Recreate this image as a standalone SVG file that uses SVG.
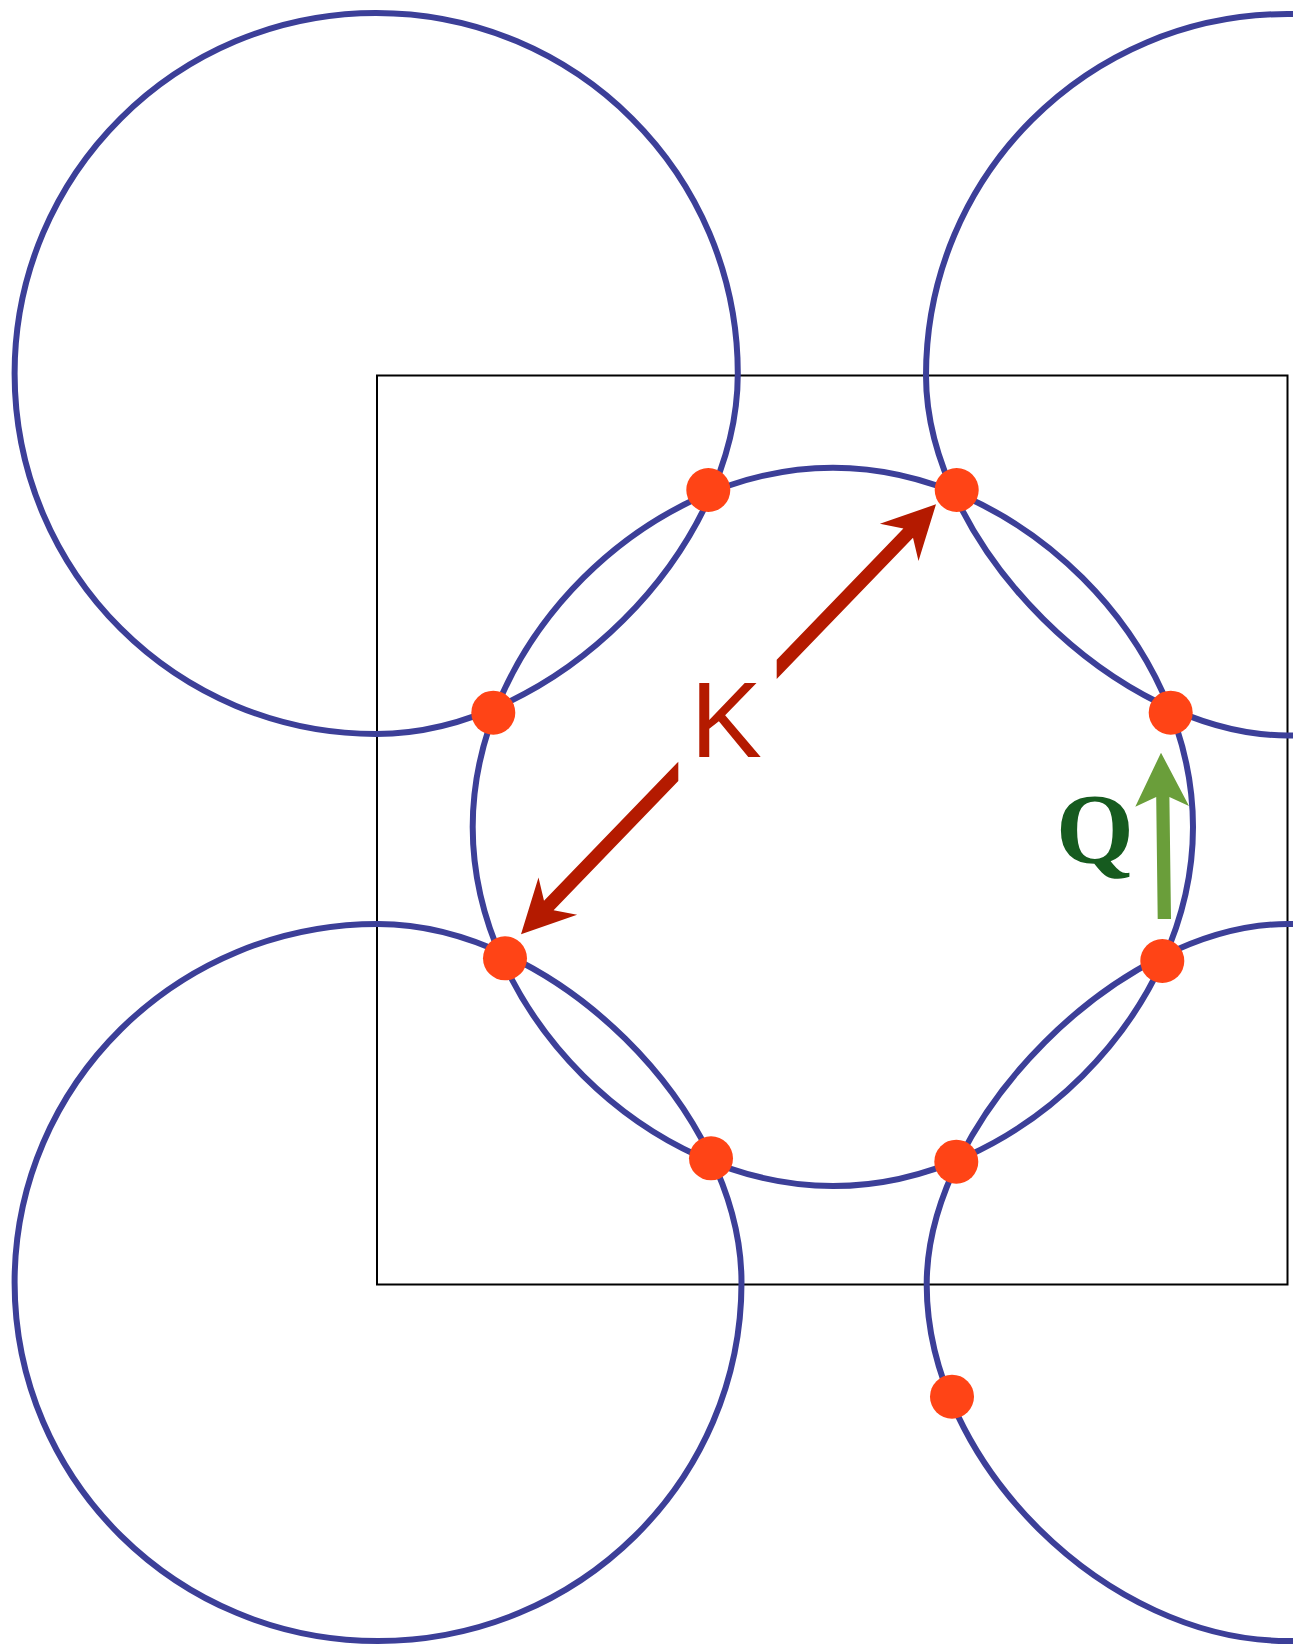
<svg xmlns="http://www.w3.org/2000/svg" width="1293" height="1644" viewBox="0 0 1293 1644">
<style>
.fs{fill:none;stroke:#3C3F98;stroke-width:6;stroke-linejoin:round}
.dot{fill:#FF4416}
.kv{fill:#B41A00}
.qv{fill:#6A9E3A}
</style>
<rect x="0" y="0" width="1293" height="1644" fill="#FFFFFF"/>
<g id="zone">
<rect x="377" y="375.5" width="910.5" height="909" fill="none" stroke="#000000" stroke-width="2"/>
</g>
<g id="surfaces">
<path id="fs-center" class="fs" d="M1193,827 C1193,1011.89 1018.4,1186 833,1186 C647.45,1186 472.7,1011.89 472.7,827 C472.7,641.96 647.45,467.7 833,467.7 C1018.4,467.7 1193,641.96 1193,827 Z"/>
<path id="fs-tl" class="fs" d="M737.8,373.5 C737.8,550.15 553.38,734 376.2,734 C176.49,734 14.6,572.6 14.6,373.5 C14.6,174.4 176.49,13 376.2,13 C575.91,13 737.8,174.4 737.8,373.5 Z"/>
<path id="fs-tr" class="fs" d="M1649,375.5 C1649,574.33 1487.16,735.5 1287.5,735.5 C1117.59,735.5 926,544.7 926,375.5 C926,175.84 1087.84,14 1287.5,14 C1487.16,14 1649,175.84 1649,375.5 Z"/>
<path id="fs-bl" class="fs" d="M741.5,1282.5 C741.5,1480.5 578.76,1641 378,1641 C177.29,1641 14.6,1480.5 14.6,1282.5 C14.6,1084.5 177.29,924 378,924 C552.48,924 741.5,1110.42 741.5,1282.5 Z"/>
<path id="fs-br" class="fs" d="M1647.5,1284.5 C1647.5,1481.4 1486.33,1641 1287.5,1641 C1107.1,1641 926.7,1462.75 926.7,1284.5 C926.7,1118.67 1121.53,924 1287.5,924 C1486.33,924 1647.5,1085.4 1647.5,1284.5 Z"/>
</g>
<g id="hotspots">
<circle class="dot" cx="708.3" cy="490" r="22"/>
<circle class="dot" cx="956.7" cy="490" r="22"/>
<circle class="dot" cx="493.3" cy="712.7" r="22"/>
<circle class="dot" cx="1170.7" cy="712.7" r="22"/>
<circle class="dot" cx="505" cy="958.3" r="22"/>
<circle class="dot" cx="1162.3" cy="961" r="22"/>
<circle class="dot" cx="711" cy="1158.3" r="22"/>
<circle class="dot" cx="956.3" cy="1161.7" r="22"/>
<circle class="dot" cx="952" cy="1396.7" r="22"/>
</g>
<g id="vector-K">
<polygon class="kv" points="776.7,659.75 903.4,528.4 879.9,523.8 936,504.3 918.5,561 913,537.8 776.7,679.05"/>
<polygon class="kv" points="678.3,761.65 544,900.8 538.5,877.6 521,934.3 577.1,914.8 553.6,910.2 678.3,780.95"/>
<text x="690.5" y="757.3" font-family="'Liberation Sans', Arial, sans-serif" font-size="107" fill="#B41A00">K</text>
</g>
<g id="vector-Q">
<polygon class="qv" points="1157.7,919 1171,919 1169.4,797 1189,806 1161,752.7 1135.3,806.7 1156.2,797"/>
<text x="1056" y="862" font-family="'Liberation Serif', 'Times New Roman', serif" font-weight="bold" font-size="100" fill="#165B1F">Q</text>
</g>
</svg>
